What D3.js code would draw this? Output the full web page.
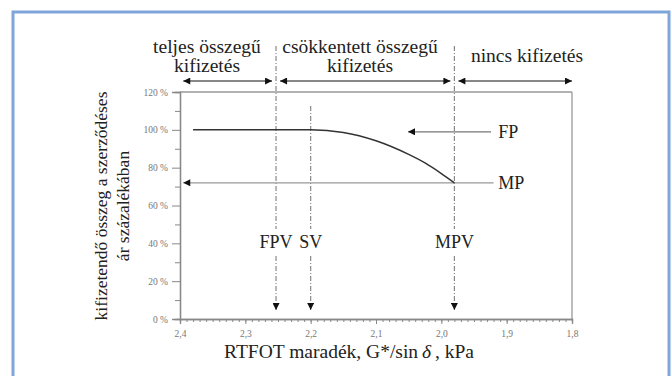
<!DOCTYPE html>
<html><head><meta charset="utf-8">
<script src="https://cdn.jsdelivr.net/npm/d3@7"></script>
<style>body{margin:0;background:#fff}svg{display:block}text{font-family:"Liberation Serif","Times New Roman",serif}</style>
</head><body><svg id="c" width="672" height="376"></svg>
<script>
// ---- data ----
const xTicks = [2.4, 2.3, 2.2, 2.1, 2.0, 1.9, 1.8];
const yTicks = [0, 20, 40, 60, 80, 100, 120];
const curveX = [2.38, 2.30, 2.20, 2.15, 2.10, 2.05, 2.025, 2.00, 1.98];
const curveY = [100, 100, 100, 98.6, 94.2, 87.0, 82.5, 76.9, 72.0];
const markerNames = ["FPV", "SV", "MPV"];
const markerX = [2.253, 2.2, 1.98];
const zoneEdges = [2.395, 2.253, 1.98, 1.8];
const zoneLabels = [["teljes összegű", "kifizetés"], ["csökkentett összegű", "kifizetés"], ["nincs kifizetés"]];
const mpValue = 72;
const fpValue = 100;
const yTitle = ["kifizetendő összeg a szerződéses", "ár százalékában"];

const svg = d3.select("#c");
const x = d3.scaleLinear().domain([2.4, 1.8]).range([180, 572]);
const y = d3.scaleLinear().domain([0, 120]).range([319, 92]);

// outer frame
svg.append("rect").attr("x", 13).attr("y", 12).attr("width", 656).attr("height", 380)
  .attr("fill", "none").attr("stroke", "#7ea6da").attr("stroke-width", 3);

// arrow head marker
const defs = svg.append("defs");
defs.append("marker").attr("id", "ah").attr("viewBox", "0 0 10 10").attr("refX", 10).attr("refY", 5)
  .attr("markerWidth", 9).attr("markerHeight", 7).attr("markerUnits", "userSpaceOnUse")
  .attr("orient", "auto-start-reverse")
  .append("path").attr("d", "M0,0L10,5L0,10z").attr("fill", "#111");

// plot frame top/right
svg.append("line").attr("x1", x(2.4)).attr("x2", x(1.8)).attr("y1", y(120)).attr("y2", y(120)).attr("stroke", "#999").attr("stroke-width", 1.3);
svg.append("line").attr("x1", x(1.8)).attr("x2", x(1.8)).attr("y1", y(120)).attr("y2", y(0)).attr("stroke", "#999").attr("stroke-width", 1.3);

// x axis
const xMinor = d3.range(0, 61).map(i => 2.4 - i * 0.01);
const gx = svg.append("g").attr("transform", `translate(0,${y(0)})`);
gx.call(d3.axisBottom(x).tickValues(xMinor).tickSize(3).tickFormat(""));
gx.append("g").call(d3.axisBottom(x).tickValues(xTicks).tickSize(5).tickFormat(d => d3.format(".1f")(d).replace(".", ",")));
gx.selectAll("path.domain").attr("stroke", "#888").attr("stroke-width", 1.3);
gx.selectAll(".tick line").attr("stroke", "#888");
gx.selectAll("text").attr("font-size", 9.5).attr("fill", "#777").attr("dy", "1.1em");
gx.selectAll("g").attr("font-family", null); gx.attr("font-family", null);

// y axis
const gy = svg.append("g").attr("transform", `translate(${x(2.4)},0)`);
gy.call(d3.axisLeft(y).tickValues(d3.range(10, 120, 20)).tickSize(5).tickFormat(""));
gy.append("g").call(d3.axisLeft(y).tickValues(yTicks).tickSize(8).tickFormat(d => d + " %"));
gy.selectAll("path.domain").attr("stroke", "#888").attr("stroke-width", 1.3);
gy.selectAll(".tick line").attr("stroke", "#888");
gy.selectAll("text").attr("font-size", 9.5).attr("fill", "#777").attr("x", -12);
gy.selectAll("g").attr("font-family", null); gy.attr("font-family", null);

// vertical marker lines
markerNames.forEach((n, i) => {
  const xx = x(markerX[i]);
  const top = n === "SV" ? 106 : 46;
  svg.append("line").attr("x1", xx).attr("x2", xx).attr("y1", top).attr("y2", 229)
    .attr("stroke", "#888").attr("stroke-width", 1.2).attr("stroke-dasharray", "5,2,1,2");
  svg.append("line").attr("x1", xx).attr("x2", xx).attr("y1", 256).attr("y2", 310)
    .attr("stroke", "#888").attr("stroke-width", 1.2).attr("stroke-dasharray", "5,2,1,2").attr("marker-end", "url(#ah)");
  svg.append("text").attr("x", xx).attr("y", 248).attr("text-anchor", "middle")
    .attr("font-size", 18).attr("fill", "#222").text(n);
});

// zone arrows & labels
zoneLabels.forEach((lab, i) => {
  const x1 = x(zoneEdges[i]) + (i === 0 ? 0 : 4), x2 = x(zoneEdges[i + 1]) - (i === 2 ? 0 : 4);
  svg.append("line").attr("x1", x1).attr("x2", x2).attr("y1", 81).attr("y2", 81)
    .attr("stroke", "#111").attr("stroke-width", 1.2)
    .attr("marker-start", "url(#ah)").attr("marker-end", "url(#ah)");
  const cx = i === 0 ? 207 : (i === 1 ? 360 : 527);
  const t = svg.append("text").attr("text-anchor", "middle")
    .attr("font-size", 19.5).attr("fill", "#222");
  if (lab.length === 2) {
    t.append("tspan").attr("x", cx).attr("y", 53).text(lab[0]);
    t.append("tspan").attr("x", cx).attr("y", 72).text(lab[1]);
  } else {
    t.append("tspan").attr("x", cx).attr("y", 62).text(lab[0]);
  }
});

// MP line
svg.append("line").attr("x1", x(1.92)).attr("x2", x(2.395)).attr("y1", y(mpValue)).attr("y2", y(mpValue))
  .attr("stroke", "#999").attr("stroke-width", 1.3).attr("marker-end", "url(#ah)");
svg.append("text").attr("x", x(1.913)).attr("y", y(mpValue) + 6)
  .attr("font-size", 18).attr("fill", "#222").text("MP");

// FP arrow
svg.append("line").attr("x1", x(1.924)).attr("x2", x(2.051)).attr("y1", y(fpValue) + 2).attr("y2", y(fpValue) + 2)
  .attr("stroke", "#777").attr("stroke-width", 1.2).attr("marker-end", "url(#ah)");
svg.append("text").attr("x", x(1.913)).attr("y", y(fpValue) + 8)
  .attr("font-size", 18).attr("fill", "#222").text("FP");

// curve
const pts = curveX.map((v, i) => [x(v), y(curveY[i])]);
svg.append("path").attr("d", d3.line().curve(d3.curveMonotoneX)(pts))
  .attr("fill", "none").attr("stroke", "#333").attr("stroke-width", 1.5);

// axis titles
const yt = svg.append("text").attr("transform", "rotate(-90)").attr("text-anchor", "middle")
  .attr("font-size", 17.5).attr("fill", "#222");
yt.append("tspan").attr("x", -206).attr("y", 107).text(yTitle[0]);
yt.append("tspan").attr("x", -206).attr("y", 129).text(yTitle[1]);

const xt = svg.append("text").attr("x", 349).attr("y", 358).attr("text-anchor", "middle")
  .attr("font-size", 19.5).attr("fill", "#222");
xt.append("tspan").text("RTFOT maradék, G*/sin");
xt.append("tspan").attr("font-style", "italic").text("\u2009δ\u2009");
xt.append("tspan").text(", kPa");
</script></body></html>
